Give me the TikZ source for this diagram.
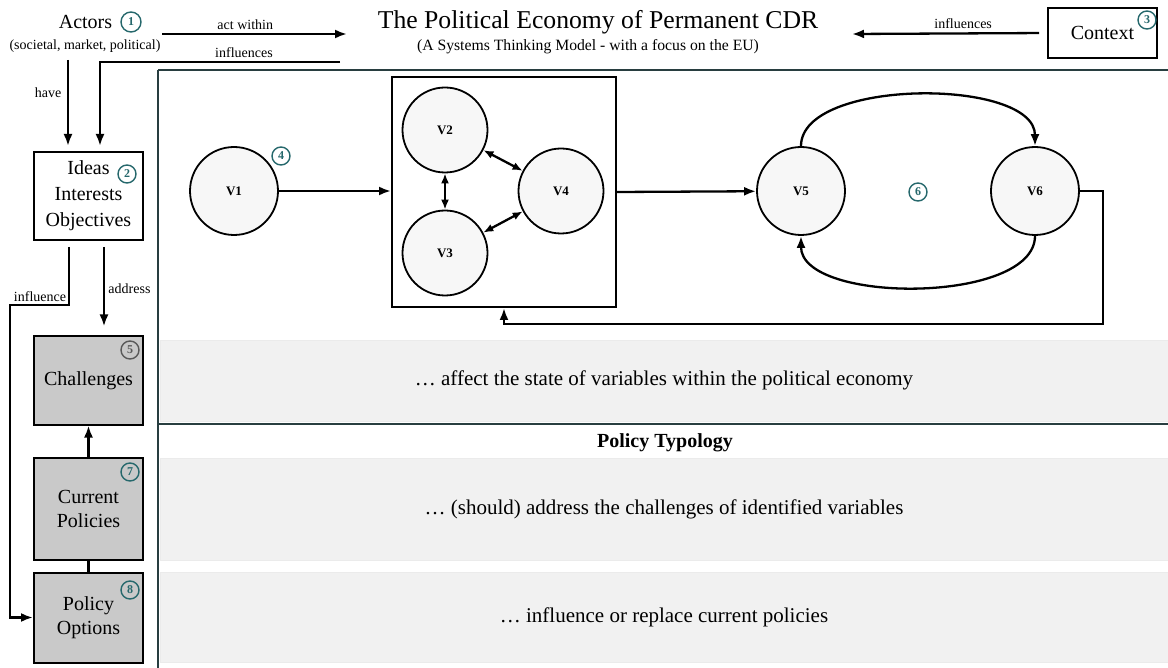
\documentclass[tikz,border=0pt]{standalone}
\usepackage{fontspec}
\setmainfont{Liberation Serif}
\usetikzlibrary{arrows.meta}
\definecolor{numcol}{RGB}{38,104,108}
\definecolor{framecol}{RGB}{40,62,64}
\definecolor{boxgray}{RGB}{201,201,201}
\definecolor{bandgray}{RGB}{241,241,241}

\begin{document}
\begin{tikzpicture}[x=1pt,y=-1pt]

\tikzset{vertex/.style = {shape=circle,draw,line width=1.8pt,fill=black!3,minimum size=88pt,inner sep=0pt,font=\fontsize{13}{13}\selectfont\bfseries}}
\tikzset{edge/.style = {->,> = {Latex[length=12pt,width=9pt]},line width=2.3pt}}
\tikzset{twoway/.style = {<->,> = {Latex[length=10pt,width=8pt]},line width=2.3pt}}
\tikzset{num/.style = {shape=circle,draw=numcol,text=numcol,line width=1.4pt,inner sep=0pt,minimum size=18pt,font=\fontsize{12}{12}\selectfont\bfseries}}
\tikzset{sidebox/.style = {shape=rectangle,draw,line width=2pt,minimum width=109pt,align=center,font=\fontsize{20}{24}\selectfont}}
\tikzset{band/.style = {shape=rectangle,fill=bandgray,draw=black!8,minimum width=1008pt,font=\fontsize{21}{24}\selectfont}}
\tikzset{lbl/.style = {font=\fontsize{14}{16}\selectfont}}

\useasboundingbox (0,0) rectangle (1168,668);

%frame
\draw[framecol,line width=2.2pt] (158,70) -- (1168,70);
\draw[framecol,line width=1.6pt] (158,70) -- (158,668);
\draw[framecol,line width=2.2pt] (158,424) -- (1168,424);

%header
\node[font=\fontsize{20}{24}\selectfont] (actors) at (85.5,22) {Actors};
\node[num,minimum size=20pt] (n1) at (131,22) {1};
\node[font=\fontsize{14}{16}\selectfont] (actorsub) at (85,46) {(societal, market, political)};
\node[font=\fontsize{25.7}{30}\selectfont] (title) at (598,22) {The Political Economy of Permanent CDR};
\node[font=\fontsize{15.7}{18}\selectfont] (subtitle) at (588,47) {(A Systems Thinking Model - with a focus on the EU)};
\node[draw,line width=2pt,minimum width=109pt,minimum height=50pt,font=\fontsize{20}{24}\selectfont] (context) at (1102.5,33) {Context};
\node[num] (n3) at (1147,20) {3};

%left column
\node[sidebox,minimum height=88pt,font=\fontsize{20}{26}\selectfont] (ideas) at (88.5,196) {Ideas\\Interests\\Objectives};
\node[num] (n2) at (127,174) {2};
\node[sidebox,fill=boxgray,minimum height=88pt] (challenges) at (88.5,380.5) {Challenges};
\node[num,draw=black!65,text=black!65] (n5) at (130,350) {5};
\node[sidebox,fill=boxgray,minimum height=102pt] (current) at (88.5,509) {Current\\Policies};
\node[num] (n7) at (130,472) {7};
\node[sidebox,fill=boxgray,minimum height=90pt] (options) at (88.5,617.5) {Policy\\Options};
\node[num] (n8) at (130,590) {8};

%bands
\node[band,minimum height=81pt] (band1) at (664,380.5) {\dots\ affect the state of variables within the political economy};
\node[font=\fontsize{20}{24}\selectfont\bfseries] (typology) at (665,443) {Policy Typology};
\node[band,minimum height=102pt] (band2) at (664,509) {\dots\ (should) address the challenges of identified variables};
\node[band,minimum height=90pt] (band3) at (664,617) {\dots\ influence or replace current policies};

%verticies
\node[vertex] (v1) at (234,191) {V1};
\node[num] (n4) at (281,156) {4};
\node[draw,line width=2pt,minimum width=224pt,minimum height=230pt] (grp) at (504,192) {};
\node[vertex,minimum size=85pt] (v2) at (445,130) {V2};
\node[vertex,minimum size=85pt] (v3) at (445,253) {V3};
\node[vertex,minimum size=85pt] (v4) at (561,191) {V4};
\node[vertex] (v5) at (801,191) {V5};
\node[vertex] (v6) at (1035,191) {V6};
\node[num] (n6) at (918,192) {6};

%edges
\coordinate (aw0) at (162,34);
\coordinate (aw1) at (347,34);
\draw[edge] (aw0) -- node[lbl,above,pos=0.45] {act within} (aw1);
\coordinate (inf0) at (340,62);
\draw[edge,shorten >=5pt] (inf0) -- node[lbl,above,pos=0.4] {influences} (100,62) -- ([xshift=11.5pt]ideas.north);
\coordinate (hv0) at (68,60);
\draw[edge,shorten >=5pt] (hv0) -- (hv0 |- ideas.north);
\node[lbl] (have) at (48,93) {have};
\coordinate (ct1) at (852,34);
\draw[edge,shorten <=8pt] (context.west) -- node[lbl,above,pos=0.43] {influences} (ct1);
\coordinate (ifl) at (10,305);
\draw[edge] ([xshift=-19.5pt,yshift=-6pt]ideas.south) |- (ifl) |- (options.west);
\node[lbl] (influence) at (40,297) {influence};
\draw[edge,shorten <=6pt,shorten >=9pt] ([xshift=15.5pt]ideas.south) -- node[lbl,right] {address} ([xshift=15.5pt]challenges.north);
\draw[edge] (current.north) -- (challenges.south);
\draw[line width=2.3pt] (current.south) -- (options.north);

\draw[edge] (v1.east) -- (v1.east -| grp.west);
\draw[twoway] (v2) -- (v3);
\draw[twoway] (v2) -- (v4);
\draw[twoway] (v3) -- (v4);
\draw[edge] (grp.east) -- (v5);
\draw[edge] (v5.north) to[out=90,in=90,looseness=0.75] (v6.north);
\draw[edge] (v6.south) to[out=-90,in=-90,looseness=0.75] (v5.south);
\coordinate (fb) at (1103,324);
\draw[edge] (v6.east) -| (fb) -| (grp.south);

\end{tikzpicture}
\end{document}
